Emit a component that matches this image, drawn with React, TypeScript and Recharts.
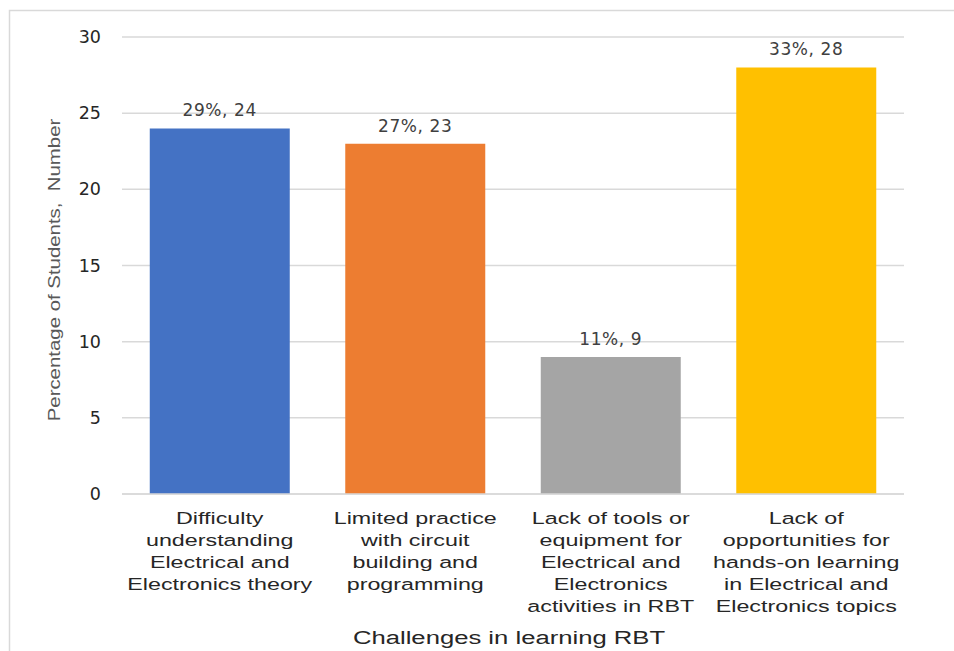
import React from "react";
import { BarChart, Bar, XAxis, YAxis, CartesianGrid, LabelList, Cell, Label } from "recharts";

const categories = [
  "Difficulty understanding Electrical and Electronics theory",
  "Limited practice with circuit building and programming",
  "Lack of tools or equipment for Electrical and Electronics activities in RBT",
  "Lack of opportunities for hands-on learning in Electrical and Electronics topics",
];
const categoryLines = [
  ["Difficulty", "understanding", "Electrical and", "Electronics theory"],
  ["Limited practice", "with circuit", "building and", "programming"],
  ["Lack of tools or", "equipment for", "Electrical and", "Electronics", "activities in RBT"],
  ["Lack of", "opportunities for", "hands-on learning", "in Electrical and", "Electronics topics"],
];
const counts = [24, 23, 9, 28];
const percents = [29, 27, 11, 33];
const colors = ["#4472C4", "#ED7D31", "#A5A5A5", "#FFC000"];
const yTicks = [0, 5, 10, 15, 20, 25, 30];
const xTitle = "Challenges in learning RBT";
const yTitle = "Percentage of Students,  Number";

const data = categories.map((c, i) => ({
  name: c,
  idx: i,
  value: counts[i],
  label: `${percents[i]}%, ${counts[i]}`,
}));

const SANS = "'Liberation Sans', Arial, sans-serif";

const CatTick = (props: any) => {
  const { x, y, payload } = props;
  const lines = categoryLines[payload.index] || [payload.value];
  return (
    <g transform={`translate(${x},${y}) scale(1.37,1)`}>
      {lines.map((l: string, k: number) => (
        <text
          key={k}
          x={0}
          y={22 + k * 22}
          textAnchor="middle"
          fill="#262626"
          fontFamily={SANS}
          fontSize={17}
        >
          {l}
        </text>
      ))}
    </g>
  );
};

const YTick = (props: any) => {
  const { x, y, payload } = props;
  return (
    <text
      x={x}
      y={y}
      dy={6}
      textAnchor="end"
      fill="#262626"
      fontFamily="'DejaVu Sans', Verdana, sans-serif"
      fontSize={17.5}
    >
      {payload.value}
    </text>
  );
};

const XTitle = (props: any) => {
  const vb = props.viewBox || {};
  const cx = vb.x + vb.width / 2;
  return (
    <g transform={`translate(${cx - 4},644) scale(1.35,1)`}>
      <text x={0} y={0} textAnchor="middle" fill="#262626" fontFamily={SANS} fontSize={19}>
        {xTitle}
      </text>
    </g>
  );
};

const YTitle = () => (
  <g transform={`translate(60,270) rotate(-90) scale(1.2,1)`}>
    <text x={0} y={0} textAnchor="middle" fill="#595959" fontFamily={SANS} fontSize={17} style={{ whiteSpace: "pre" }}>
      {yTitle}
    </text>
  </g>
);

export default function App() {
  return (
    <div style={{ position: "absolute", left: 0, top: 0, width: 954, height: 651, background: "#fff", overflow: "hidden" }}>
      <svg style={{ position: "absolute", left: 0, top: 0 }} width={954} height={651}>
        <rect x={9.5} y={10.5} width={960} height={660} fill="none" stroke="#d9d9d9" strokeWidth={1.5} />
      </svg>
      <div style={{ position: "absolute", left: 0, top: 0 }}>
        <BarChart
          width={954}
          height={651}
          data={data}
          margin={{ top: 37, right: 50, left: 0, bottom: 0 }}
          barCategoryGap="14.2%"
        >
          <CartesianGrid vertical={false} stroke="#d9d9d9" strokeWidth={1.5} />
          <XAxis
            dataKey="name"
            height={157}
            tickLine={false}
            axisLine={{ stroke: "#d9d9d9", strokeWidth: 1.5 }}
            tick={<CatTick />}
            interval={0}
          >
            <Label content={<XTitle />} />
          </XAxis>
          <YAxis
            width={122}
            domain={[0, 30]}
            ticks={yTicks}
            tickLine={false}
            axisLine={false}
            tickSize={0}
            tickMargin={21}
            tick={<YTick />}
          >
            <Label content={<YTitle />} />
          </YAxis>
          <Bar dataKey="value" isAnimationActive={false}>
            {data.map((d, i) => (
              <Cell key={i} fill={colors[i]} />
            ))}
            <LabelList
              dataKey="label"
              position="top"
              offset={12}
              fill="#404040"
              fontSize={17}
              letterSpacing={0.6}
              fontFamily="'DejaVu Sans', Verdana, sans-serif"
            />
          </Bar>
        </BarChart>
      </div>
    </div>
  );
}
